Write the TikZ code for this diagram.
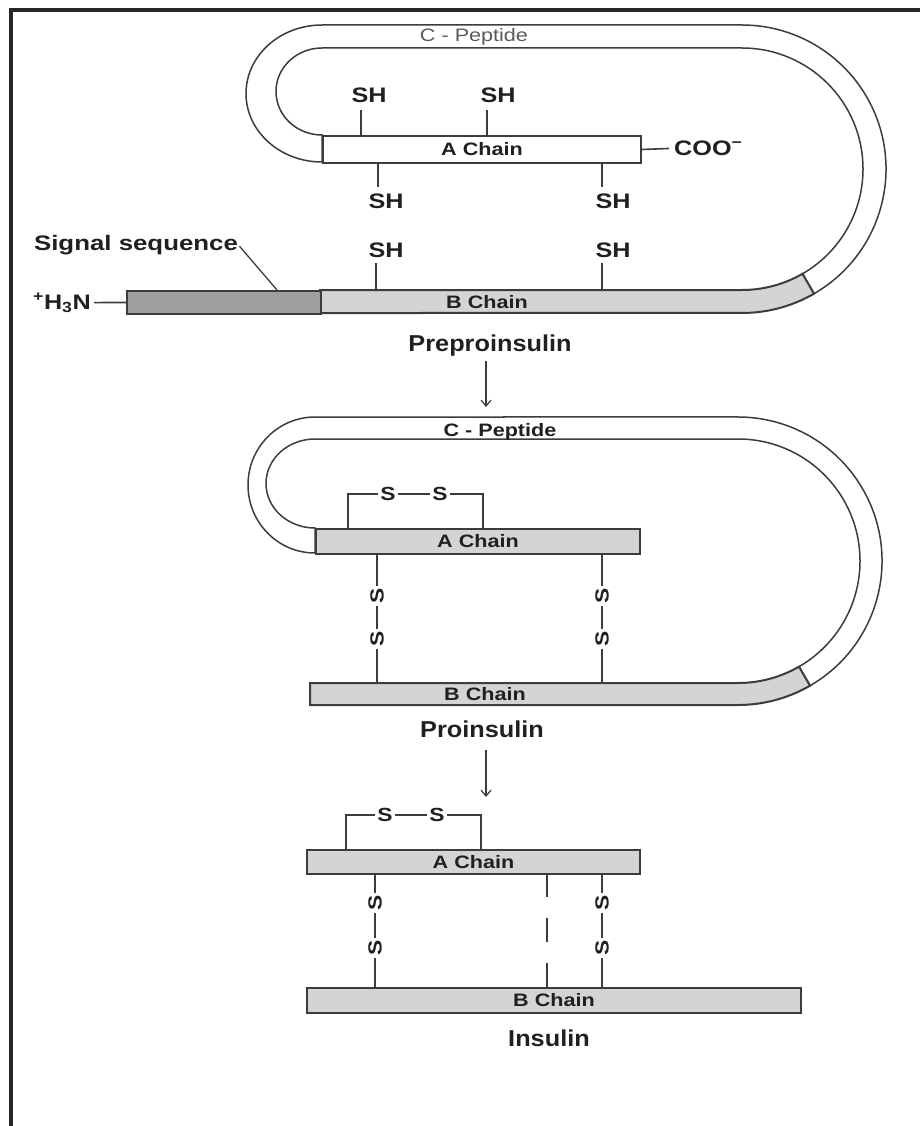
\documentclass[tikz,border=0pt]{standalone}
\usepackage{fontspec}
\setmainfont{Liberation Sans}
\usetikzlibrary{arrows.meta}
\definecolor{edge}{HTML}{3C3C3C}
\definecolor{chaingray}{HTML}{D4D4D4}
\definecolor{siggray}{HTML}{9E9E9E}
\definecolor{txt}{HTML}{202020}
\definecolor{pepgray}{HTML}{5A5A5A}
\newcommand{\wide}[2][1.2]{\scalebox{#1}[1]{#2}}
\begin{document}
\begin{tikzpicture}[x=1pt,y=-1pt,
  title/.style={font=\fontsize{23}{26}\selectfont\bfseries, text=txt, inner sep=0pt, anchor=base},
  lbl/.style={font=\fontsize{21}{24}\selectfont\bfseries, text=txt, inner sep=0pt, anchor=base},
  chainbox/.style={draw=edge, line width=2pt, fill=chaingray, anchor=north west, inner sep=0pt, font=\fontsize{18}{20}\selectfont\bfseries, text=txt},
  chainlbl/.style={font=\fontsize{18}{20}\selectfont\bfseries, text=txt, inner sep=0pt},
  peplbl/.style={font=\fontsize{18}{20}\selectfont, inner sep=0pt, anchor=base},
  tube/.style={draw=edge, line width=1.5pt},
  bond/.style={draw=edge, line width=1.6pt},
  sulf/.style={font=\fontsize{19}{22}\selectfont\bfseries, text=txt, fill=white, inner sep=2.5pt},
  arr/.style={draw=edge, line width=1.2pt, -{Straight Barb[length=6pt,width=10pt]}},
  frame/.style={draw=black!85, line width=4pt}
]
\useasboundingbox (0,0) rectangle (920,1126);
% frame
\coordinate (f1) at (10.5,1126);
\coordinate (f2) at (10.5,10.5);
\coordinate (f3) at (920,10.5);
\draw[frame] (f1) -- (f2) -- (f3);

% ================= Preproinsulin =================
\draw[tube, fill=white] (322,135) arc[start angle=90, end angle=270, x radius=46, y radius=43.5]
  -- (742,48) arc[start angle=270, end angle=420, radius=121]
  -- (814,293.7) arc[start angle=420, end angle=270, radius=144]
  -- (322,25) arc[start angle=270, end angle=90, x radius=76, y radius=68.5] -- cycle;
\draw[draw=edge, line width=2pt, fill=chaingray] (320,290) -- (742,290) arc[start angle=90, end angle=60, radius=121]
  -- (814,293.7) arc[start angle=60, end angle=90, radius=144] -- (320,313) -- cycle;
\node[chainbox, fill=siggray, minimum width=194pt, minimum height=23pt] (sig) at (126,290) {};
\node[chainlbl] (B1) at (487,302) {\wide{B Chain}};
\node[chainbox, fill=white, minimum width=318pt, minimum height=27pt] (A1) at (322,135) {\wide{A Chain}};
\node[peplbl, text=pepgray] (cp1) at (474,42) {\wide{C - Peptide}};

% SH groups
\coordinate (p1) at (361,135); \draw[bond] (p1) -- ++(0,-25);
\coordinate (p2) at (487,135); \draw[bond] (p2) -- ++(0,-25);
\node[lbl] (sh1) at (369,103) {\wide{SH}};
\node[lbl] (sh2) at (498,103) {\wide{SH}};
\coordinate (p3) at (378,162); \draw[bond] (p3) -- ++(0,25);
\coordinate (p4) at (602,162); \draw[bond] (p4) -- ++(0,25);
\node[lbl] (sh3) at (386,208) {\wide{SH}};
\node[lbl] (sh4) at (613,208) {\wide{SH}};
\coordinate (p5) at (376,290); \draw[bond] (p5) -- ++(0,-27);
\coordinate (p6) at (602,290); \draw[bond] (p6) -- ++(0,-27);
\node[lbl] (sh5) at (386,257) {\wide{SH}};
\node[lbl] (sh6) at (613,257) {\wide{SH}};

% COO-
\node[lbl, anchor=base west] (coo) at (674,155.5) {\wide{COO\textsuperscript{−}}};
\draw[bond, shorten >=5pt] (A1.east) -- (coo.west);
% H3N
\node[lbl] (h3n) at (62,309) {\wide{\textsuperscript{+}H\textsubscript{3}N}};
\draw[bond, shorten <=3pt] (h3n.east) -- (sig.west);
% signal sequence
\node[lbl] (sigl) at (136,250) {\wide[1.23]{Signal sequence}};
\coordinate (sigpt) at (277,290);
\draw[draw=edge, line width=1.3pt, shorten <=2pt] (sigl.east) -- (sigpt);

\node[title] (pre) at (490,351) {\wide[1.1]{Preproinsulin}};
\coordinate (a1s) at (486,361); \coordinate (a1e) at (486,407);
\draw[arr] (a1s) -- (a1e);

% ================= Proinsulin =================
\draw[tube, fill=white] (315,528) arc[start angle=90, end angle=270, x radius=49, y radius=44.5]
  -- (738,439) arc[start angle=270, end angle=420, radius=122]
  -- (810,685.7) arc[start angle=420, end angle=270, radius=144]
  -- (315,417) arc[start angle=270, end angle=90, x radius=67, y radius=68] -- cycle;
\draw[draw=edge, line width=2pt, fill=chaingray] (310,683) -- (738,683) arc[start angle=90, end angle=60, radius=122]
  -- (810,685.7) arc[start angle=60, end angle=90, radius=144] -- (310,705) -- cycle;
\node[chainlbl] (B2) at (485,694) {\wide{B Chain}};
\node[chainbox, minimum width=324pt, minimum height=25pt] (A2) at (315,528) {\wide{A Chain}};
\node[peplbl, font=\fontsize{18}{20}\selectfont\bfseries, text=txt] (cp2) at (500,436) {\wide{C - Peptide}};

\coordinate (q1) at (348,528); \coordinate (q2) at (483,528);
\draw[bond] (q1) -- ++(0,-34) -| (q2);
\node[sulf] (s21) at (388,494) {\wide{S}};
\node[sulf] (s22) at (440,494) {\wide{S}};
\coordinate (q3) at (377,553); \coordinate (q4) at (377,683);
\coordinate (q5) at (602,553); \coordinate (q6) at (602,683);
\draw[bond] (q3) -- (q4);
\draw[bond] (q5) -- (q6);
\node[sulf, rotate=90] (s23) at (377,596) {\wide{S}};
\node[sulf, rotate=90] (s24) at (377,639) {\wide{S}};
\node[sulf, rotate=90] (s25) at (602,596) {\wide{S}};
\node[sulf, rotate=90] (s26) at (602,639) {\wide{S}};

\node[title] (pro) at (482,737) {\wide[1.1]{Proinsulin}};
\coordinate (a2s) at (486,750); \coordinate (a2e) at (486,797);
\draw[arr] (a2s) -- (a2e);

% ================= Insulin =================
\node[chainbox, minimum width=333pt, minimum height=24pt] (A3) at (306,849) {\wide{A Chain}};
\node[chainbox, minimum width=494pt, minimum height=25pt] (B3) at (306,987) {\wide{B Chain}};
\coordinate (r1) at (346,849); \coordinate (r2) at (481,849);
\draw[bond] (r1) -- ++(0,-34) -| (r2);
\node[sulf] (s31) at (385,815) {\wide{S}};
\node[sulf] (s32) at (437,815) {\wide{S}};
\coordinate (r3) at (375,873); \coordinate (r4) at (375,987);
\coordinate (r5) at (602,873); \coordinate (r6) at (602,987);
\coordinate (r7) at (547,873); \coordinate (r8) at (547,987);
\draw[bond] (r3) -- (r4);
\draw[bond] (r5) -- (r6);
\draw[bond, dash pattern=on 24pt off 21pt] (r7) -- (r8);
\node[sulf, rotate=90] (s33) at (375,903) {\wide{S}};
\node[sulf, rotate=90] (s34) at (375,948) {\wide{S}};
\node[sulf, rotate=90] (s35) at (602,903) {\wide{S}};
\node[sulf, rotate=90] (s36) at (602,948) {\wide{S}};

\node[title] (ins) at (549,1046) {\wide[1.1]{Insulin}};
\end{tikzpicture}
\end{document}
